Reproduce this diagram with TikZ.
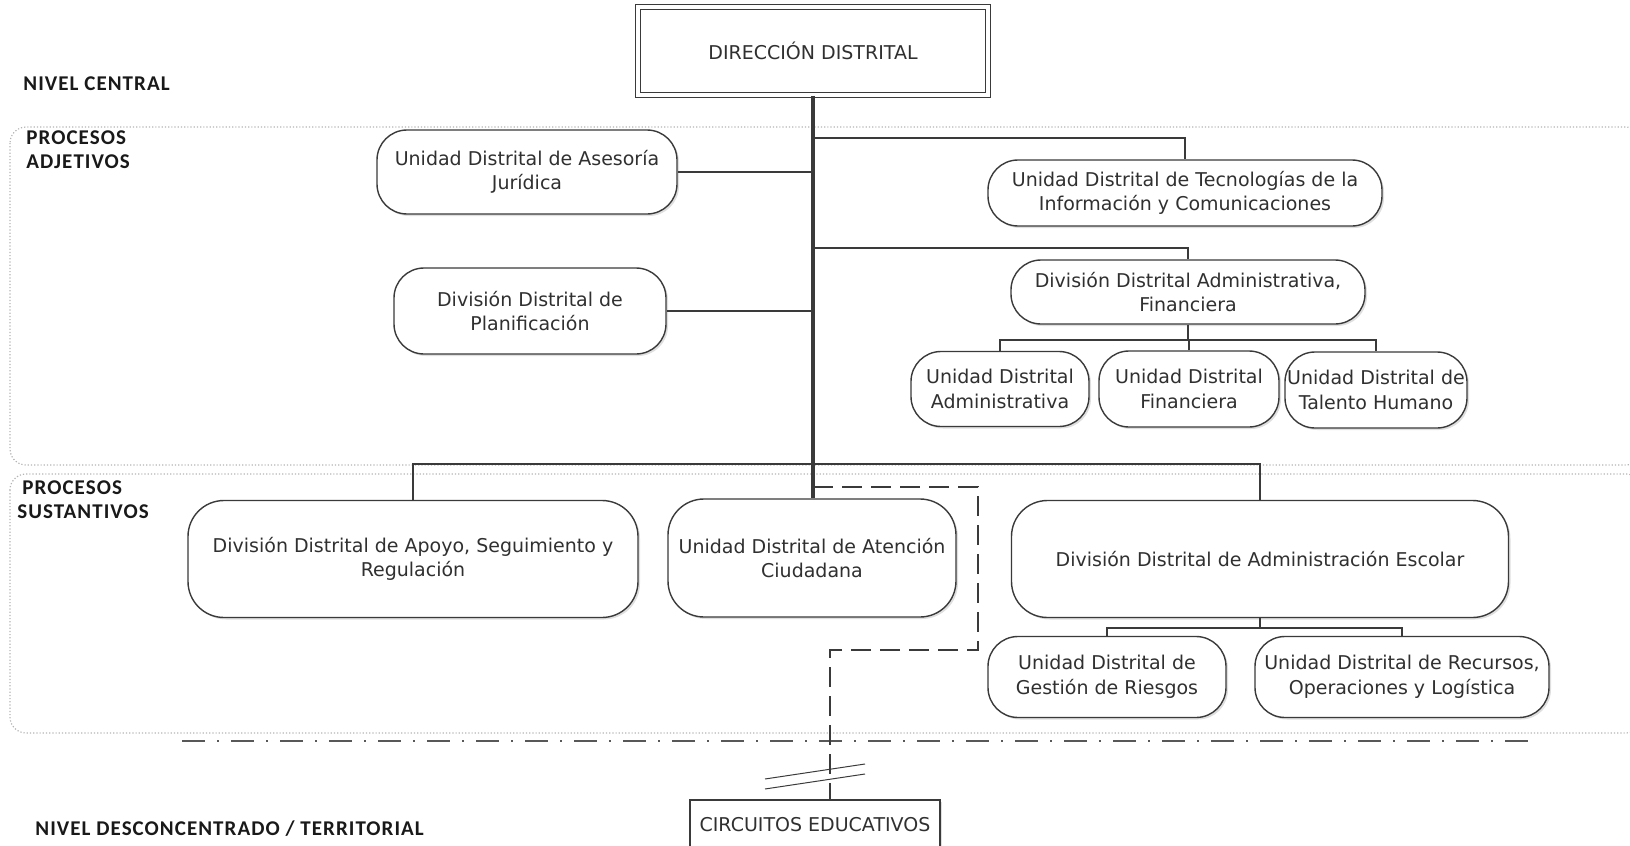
\documentclass[tikz,border=0pt]{standalone}
\usepackage{fontspec}
\setmainfont{DejaVu Sans}
\newfontfamily\labfont[LetterSpace=5]{Carlito}
\usetikzlibrary{shadows}
\definecolor{ink}{HTML}{303030}
\definecolor{linec}{HTML}{3A3A3A}
\definecolor{dotc}{HTML}{B4B4B4}
\begin{document}
\begin{tikzpicture}[x=0.5pt,y=-0.5pt,
  sz/.style 2 args={minimum width={#1*0.5pt},minimum height={#2*0.5pt}},
  box/.style={draw=linec, line width=0.7pt, fill=white, rounded corners=15pt, align=center,
    text=ink, font=\fontsize{9.5}{12.3}\selectfont, inner sep=0pt,
    drop shadow={shadow xshift=1pt, shadow yshift=-1pt, opacity=0.25}},
  bigbox/.style={box, rounded corners=18pt},
  dirbox/.style={draw=linec, double=white, double distance=1.6pt, line width=0.9pt, fill=white,
    text=ink, font=\fontsize{9.5}{12.3}\selectfont, inner sep=0pt,
    drop shadow={shadow xshift=1pt, shadow yshift=-1pt, opacity=0.25}},
  cirbox/.style={draw=linec, line width=1pt, fill=white, text=ink,
    font=\fontsize{9.5}{12.3}\selectfont, inner sep=0pt,
    drop shadow={shadow xshift=1pt, shadow yshift=-1pt, opacity=0.25}},
  lab/.style={anchor=west, inner sep=0pt, font=\labfont\bfseries\fontsize{10.5}{12}\selectfont, text=black!90},
  conn/.style={draw=linec, line width=1pt},
  trunk/.style={draw=linec, line width=1.6pt},
  dashc/.style={draw=linec, line width=1pt, dash pattern=on 10pt off 4.5pt},
  region/.style={draw=dotc, line width=0.6pt, dash pattern=on 0.6pt off 1pt, rounded corners=8pt},
  dashdot/.style={draw=linec!85, line width=1.2pt, dash pattern=on 11.5pt off 6pt on 1pt off 6pt},
  breakmark/.style={draw=linec, line width=0.5pt}
]
\useasboundingbox (0,0) rectangle (1630,846);
\clip (0,0) rectangle (1630,846);

% regions
\draw[region] (10,127) rectangle (1642,465);
\draw[region] (10,474) rectangle (1642,733);

% labels
\node[lab] (lnc) at (23,84) {NIVEL CENTRAL};
\node[lab] (lpa1) at (26,138) {PROCESOS};
\node[lab] (lpa2) at (26,162) {ADJETIVOS};
\node[lab] (lps1) at (22,488) {PROCESOS};
\node[lab] (lps2) at (17,512) {SUSTANTIVOS};
\node[lab] (lnd) at (35,829) {NIVEL DESCONCENTRADO / TERRITORIAL};

% dash-dot boundary
\draw[dashdot] (182,741) -- (1528,741);

% nodes
\node[dirbox, sz={350}{88}] (dir) at (813,51) {DIRECCIÓN DISTRITAL};
\node[box, sz={300}{84}] (ase) at (527,172) {Unidad Distrital de Asesoría\\Jurídica};
\node[box, sz={394}{66}] (tic) at (1185,193) {Unidad Distrital de Tecnologías de la\\Información y Comunicaciones};
\node[box, sz={272}{86}] (pla) at (530,311) {División Distrital de\\Planificación};
\node[box, sz={354}{64}] (adf) at (1188,292) {División Distrital Administrativa,\\Financiera};
\node[box, sz={178}{75}] (uad) at (1000,389) {Unidad Distrital\\Administrativa};
\node[box, sz={180}{76}] (ufi) at (1189,389) {Unidad Distrital\\Financiera};
\node[box, sz={182}{76}] (uth) at (1376,390) {Unidad Distrital de\\Talento Humano};
\node[bigbox, sz={450}{117}] (apo) at (413,559) {División Distrital de Apoyo, Seguimiento y\\Regulación};
\node[bigbox, sz={288}{118}] (ate) at (812,558) {Unidad Distrital de Atención\\Ciudadana};
\node[bigbox, sz={497}{117}] (esc) at (1260,559) {División Distrital de Administración Escolar};
\node[box, sz={238}{81}] (rie) at (1107,677) {Unidad Distrital de\\Gestión de Riesgos};
\node[box, sz={294}{81}] (rec) at (1402,677) {Unidad Distrital de Recursos,\\Operaciones y Logística};
\node[cirbox, sz={250}{50}] (cir) at (815,825) {CIRCUITOS EDUCATIVOS};

% coordinates
\coordinate (t1) at (813,138);
\coordinate (t2) at (813,248);
\coordinate (ab) at (1188,340);
\coordinate (sb) at (813,464);
\coordinate (eb) at (1260,628);
\coordinate (ds) at (813,487);
\coordinate (dk) at (978,650);
\coordinate (dc) at (830,650);

% trunk and branches
\draw[trunk] (dir.south) -- (dir.south |- ate.north);
\draw[conn] (ase.east) -- (ase.east -| t1);
\draw[conn] (pla.east) -- (pla.east -| t1);
\draw[conn] (t1) -| (tic.north);
\draw[conn] (t2) -| (adf.north);
\draw[conn] (adf.south) -- (ab);
\draw[conn] (uad.north) |- (ab) -| (uth.north);
\draw[conn] (ufi.north) -- (ufi.north |- ab);
\draw[conn] (apo.north) |- (sb) -| (esc.north);
\draw[conn] (esc.south) -- (eb);
\draw[conn] (rie.north) |- (eb) -| (rec.north);

% dashed link to circuits
\draw[dashc] (ds) -| (dk) -- (dc) -- (dc |- cir.north);

% break marks
\draw[breakmark] (765,779) -- (865,764);
\draw[breakmark] (765,789) -- (865,774);
\end{tikzpicture}
\end{document}
